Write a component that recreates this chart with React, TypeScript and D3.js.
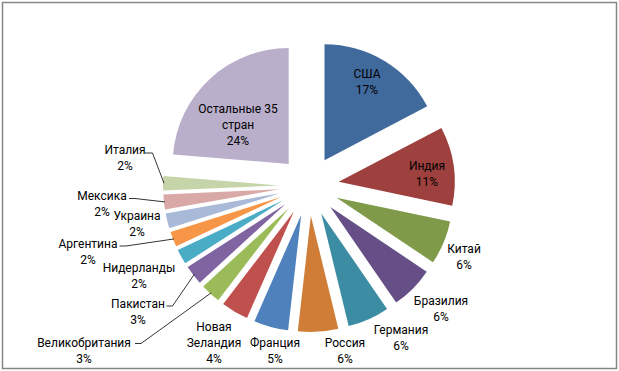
import * as d3 from "d3"

// страны по часовой стрелке от 12 часов
const countries = [
  "США",
  "Индия",
  "Китай",
  "Бразилия",
  "Германия",
  "Россия",
  "Франция",
  "Новая Зеландия",
  "Великобритания",
  "Пакистан",
  "Нидерланды",
  "Аргентина",
  "Украина",
  "Мексика",
  "Италия",
  "Остальные 35 стран",
]

// доли, %
const shares = [17.3, 11.0, 6.1, 6.0, 5.8, 5.6, 4.8, 3.8, 2.8, 2.7, 2.1, 2.1, 2.1, 2.1, 2.0, 23.7]

const sliceColors = [
  "#40699c",
  "#9e413e",
  "#7f9a48",
  "#664f87",
  "#3c8da3",
  "#cf7d37",
  "#4f81bd",
  "#c0504d",
  "#9bbb59",
  "#8064a2",
  "#4bacc6",
  "#f79646",
  "#a9b9d8",
  "#d9a9a8",
  "#c6d5a9",
  "#b9afca",
]

// переносы строк в подписях
const labelBreaks: Record<string, string[]> = {
  "Новая Зеландия": ["Новая", "Зеландия"],
  "Остальные 35 стран": ["Остальные 35", "стран"],
}

// положение подписей (центр первой строки) и выносных линий
const labelPos = [
  { x: 367, y: 74 },
  { x: 427, y: 166 },
  { x: 464, y: 249 },
  { x: 441, y: 301 },
  { x: 401, y: 330 },
  { x: 345, y: 343 },
  { x: 275, y: 343 },
  { x: 214, y: 327 },
  { x: 84, y: 342.5, line: [135, 343.5, 141] },
  { x: 138, y: 304, line: [166.5, 306, 172.5] },
  { x: 139, y: 267.5 },
  { x: 88, y: 244, line: [119.5, 246, 126] },
  { x: 137, y: 216 },
  { x: 102, y: 195.6, line: [129, 198.5, 135] },
  { x: 125, y: 150, line: [145, 153, 152.5] },
  { x: 238, y: 108.7 },
]

const width = 619
const height = 371
const cx = 309
const cy = 186
const radius = 116
const explode = 30
const lineHeight = 16

export default function App() {
  const data = countries.map((name, i) => ({ name, value: shares[i] }))
  const pie = d3
    .pie<{ name: string; value: number }>()
    .sort(null)
    .value((d) => d.value)
    .startAngle(0)
    .endAngle(2 * Math.PI)
  const arcs = pie(data)
  const arc = d3.arc<d3.PieArcDatum<{ name: string; value: number }>>().innerRadius(0).outerRadius(radius)
  const total = d3.sum(shares)

  return (
    <svg
      width={width}
      height={height}
      style={{ position: "absolute", left: 0, top: 0, background: "#fff" }}
      fontFamily="Roboto, 'Liberation Sans', sans-serif"
      fontSize={12}
    >
      <rect x={2.5} y={2.5} width={614} height={366} fill="#fff" stroke="#868686" strokeWidth={1.5} />
      <g transform={`translate(${cx},${cy})`}>
        {arcs.map((a, i) => {
          const mid = (a.startAngle + a.endAngle) / 2
          const dx = explode * Math.sin(mid)
          const dy = -explode * Math.cos(mid)
          return (
            <path
              key={a.data.name}
              d={arc(a) || ""}
              transform={`translate(${dx},${dy})`}
              fill={sliceColors[i]}
            />
          )
        })}
      </g>
      {arcs.map((a, i) => {
        const p = labelPos[i]
        if (!p.line) return null
        const mid = (a.startAngle + a.endAngle) / 2
        const r = radius + explode - 1
        const ex = cx + r * Math.sin(mid)
        const ey = cy - r * Math.cos(mid)
        const [x0, y0, x1] = p.line
        return (
          <path
            key={"l" + i}
            d={`M${x0},${y0}L${x1},${y0}L${ex},${ey}`}
            fill="none"
            stroke="#000"
            strokeWidth={0.8}
          />
        )
      })}
      {arcs.map((a, i) => {
        const p = labelPos[i]
        const lines = [...(labelBreaks[a.data.name] || [a.data.name]), `${Math.round((a.data.value / total) * 100)}%`]
        return (
          <text key={"t" + i} textAnchor="middle" fill="#000">
            {lines.map((t, j) => (
              <tspan key={j} x={p.x} y={p.y + j * lineHeight} dy="0.35em">
                {t}
              </tspan>
            ))}
          </text>
        )
      })}
    </svg>
  )
}
